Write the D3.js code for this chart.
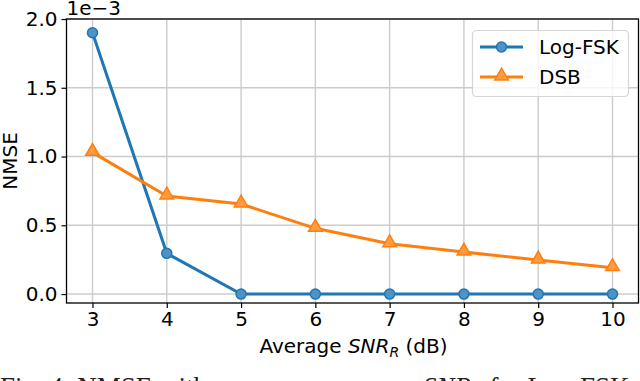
<!DOCTYPE html>
<html>
<head>
<meta charset="utf-8">
<script src="https://cdn.jsdelivr.net/npm/d3@7"></script>
<style>
  body { margin: 0; background: #fff; }
  svg { display: block; font-family: "DejaVu Sans", sans-serif; }
  .label { font-size: 20px; fill: #000; }
</style>
</head>
<body>
<svg id="chart" width="640" height="381"></svg>
<script>
// values (NMSE in units of 1e-3)
var snr = [3, 4, 5, 6, 7, 8, 9, 10];
var logFsk = [1.90, 0.296, 0, 0, 0, 0, 0, 0];
var dsb = [1.03, 0.713, 0.655, 0.478, 0.366, 0.305, 0.247, 0.192];
var yTicks = [0.0, 0.5, 1.0, 1.5, 2.0];
var seriesNames = ['Log-FSK', 'DSB'];

var plotL = 66.5, plotR = 638.5, plotT = 19, plotB = 303;
var xScale = d3.scaleLinear().domain([2.65, 10.35]).range([plotL, plotR]);
var yScale = d3.scaleLinear().domain([-0.065, 2.0]).range([plotB, plotT]);

var svg = d3.select('#chart');

// grid
var grid = svg.append('g');
grid.selectAll('.vg').data(snr).enter().append('line')
  .attr('x1', function(d) { return xScale(d); }).attr('x2', function(d) { return xScale(d); })
  .attr('y1', plotT).attr('y2', plotB)
  .attr('stroke', '#cccccc').attr('stroke-width', 1.4);
grid.selectAll('.hg').data(yTicks).enter().append('line')
  .attr('y1', function(d) { return yScale(d); }).attr('y2', function(d) { return yScale(d); })
  .attr('x1', plotL).attr('x2', plotR)
  .attr('stroke', '#cccccc').attr('stroke-width', 1.4);

// axes
var xAxis = svg.append('g').attr('transform', 'translate(0,' + plotB + ')')
  .call(d3.axisBottom(xScale).tickValues(snr).tickFormat(d3.format('d')).tickSize(5).tickPadding(4));
var yAxis = svg.append('g').attr('transform', 'translate(' + plotL + ',0)')
  .call(d3.axisLeft(yScale).tickValues(yTicks).tickFormat(d3.format('.1f')).tickSize(5).tickPadding(4));
[xAxis, yAxis].forEach(function(a) {
  a.select('.domain').remove();
  a.selectAll('.tick line').attr('stroke', '#000').attr('stroke-width', 1.2);
  a.selectAll('.tick text').attr('fill', '#000').style('font-family', '"DejaVu Sans", sans-serif').style('font-size', '20px');
});

// frame
svg.append('rect').attr('x', plotL).attr('y', plotT).attr('width', plotR - plotL).attr('height', plotB - plotT)
  .attr('fill', 'none').attr('stroke', '#000').attr('stroke-width', 1.3);

// lines
var line = d3.line().x(function(d, i) { return xScale(snr[i]); }).y(function(d) { return yScale(d); });
var colors = ['#1f77b4', '#ff7f0e'];
var fills = ['#4f93c6', '#ff9b40'];
[logFsk, dsb].forEach(function(vals, k) {
  svg.append('path').datum(vals).attr('d', line)
    .attr('fill', 'none').attr('stroke', colors[k]).attr('stroke-width', 3);
});

var tri = d3.symbol().type(d3.symbolTriangle).size(80);
function drawMarker(g, k, x, y) {
  if (k === 0) {
    g.append('circle').attr('cx', x).attr('cy', y).attr('r', 5)
      .attr('fill', fills[0]).attr('stroke', colors[0]).attr('stroke-width', 1.5);
  } else {
    g.append('path').attr('d', tri).attr('transform', 'translate(' + x + ',' + (y - 1) + ')')
      .attr('fill', fills[1]).attr('stroke', colors[1]).attr('stroke-width', 1.5);
  }
}
var marks = svg.append('g');
logFsk.forEach(function(v, i) { drawMarker(marks, 0, xScale(snr[i]), yScale(v)); });
dsb.forEach(function(v, i) { drawMarker(marks, 1, xScale(snr[i]), yScale(v)); });

// offset text
svg.append('text').attr('class', 'label').attr('x', plotL).attr('y', 15).text('1e\u22123');

// axis labels
svg.append('text').attr('class', 'label').attr('transform', 'translate(17,161) rotate(-90)')
  .attr('text-anchor', 'middle').text('NMSE');
var xl = svg.append('text').attr('class', 'label').attr('x', (plotL + plotR) / 2 + 1).attr('y', 353)
  .attr('text-anchor', 'middle');
xl.append('tspan').text('Average ');
xl.append('tspan').attr('font-style', 'italic').text('SNR');
xl.append('tspan').attr('font-style', 'italic').attr('font-size', '14px').attr('dy', 4).text('R');
xl.append('tspan').attr('dy', -4).text(' (dB)');

// legend
var lg = svg.append('g');
lg.append('rect').attr('x', 472.5).attr('y', 30.5).attr('width', 156).attr('height', 66).attr('rx', 4)
  .attr('fill', '#fff').attr('fill-opacity', 0.8).attr('stroke', '#d6d6d6').attr('stroke-width', 1.2);
seriesNames.forEach(function(name, k) {
  var yy = 47 + k * 30;
  lg.append('line').attr('x1', 480).attr('x2', 523).attr('y1', yy).attr('y2', yy)
    .attr('stroke', colors[k]).attr('stroke-width', 3);
  drawMarker(lg, k, 501.5, yy);
  lg.append('text').attr('class', 'label').attr('x', 539).attr('y', yy + 7).text(name);
});

// caption (cut off at bottom)
var cap = svg.append('text').attr('y', 396).attr('x', 0)
  .style('font-family', '"Liberation Serif", serif').style('font-size', '27px').attr('fill', '#222');
cap.append('tspan').text('Fig. 4: NMSE with');
var cap2 = svg.append('text').attr('y', 396).attr('x', 423)
  .style('font-family', '"Liberation Serif", serif').style('font-size', '27px').attr('fill', '#222');
cap2.append('tspan').attr('font-style', 'italic').text('SNR');
cap2.append('tspan').attr('font-style', 'italic').attr('font-size', '19px').attr('dy', 5).text('R');
cap2.append('tspan').attr('dy', -5).text(' for Log-FSK');
</script>
</body>
</html>
